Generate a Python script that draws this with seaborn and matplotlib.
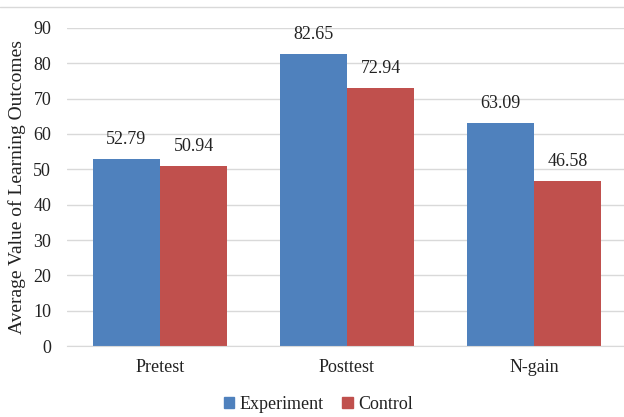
import matplotlib
matplotlib.use("Agg")
import matplotlib.pyplot as plt
import seaborn as sns
import pandas as pd
from matplotlib.lines import Line2D
from matplotlib.font_manager import FontProperties

categories = ["Pretest", "Posttest", "N-gain"]
groups = ["Experiment", "Control"]
experiment = [52.79, 82.65, 63.09]
control = [50.94, 72.94, 46.58]

df = pd.DataFrame({
    "Test": categories * 2,
    "Group": ["Experiment"] * 3 + ["Control"] * 3,
    "Value": experiment + control,
})

sns.set_style("white")
serif = ["Liberation Serif", "DejaVu Serif"]
plt.rcParams["font.family"] = serif

fig = plt.figure(figsize=(6.24, 4.17), dpi=100)
ax = fig.add_axes([0.1066, 0.170, 0.899, 0.763])

palette = {"Experiment": "#4F81BD", "Control": "#C0504D"}
sns.barplot(data=df, x="Test", y="Value", hue="Group", palette=palette,
            width=0.72, saturation=1, linewidth=0, ax=ax, legend=False)

for c in ax.containers:
    ax.bar_label(c, fmt="%.2f", padding=8, fontsize=13, color="#222222")

ax.set_ylim(0, 90)
ax.set_yticks(range(0, 91, 10))
ax.set_xlim(-0.5, 2.5)
ax.yaxis.grid(True, color="#D9D9D9", linewidth=1)
ax.set_axisbelow(True)
for s in ["top", "right", "left"]:
    ax.spines[s].set_visible(False)
ax.spines["bottom"].set_color("#D9D9D9")
ax.tick_params(axis="both", length=0, labelsize=13, colors="#222222")
ax.tick_params(axis="y", pad=11)
ax.tick_params(axis="x", pad=9)
ax.set_xlabel("")
ax.set_ylabel("Average Value of Learning Outcomes", fontsize=14, color="#222222", labelpad=5)

handles = [plt.Rectangle((0, 0), 1, 1, color=palette[g]) for g in groups]
leg = ax.legend(handles, groups, loc="center", bbox_to_anchor=(0.51, 0.03),
                bbox_transform=fig.transFigure, ncol=2, frameon=False,
                prop=FontProperties(family="Liberation Serif", size=13),
                handlelength=0.6, handleheight=0.6,
                handletextpad=0.3, columnspacing=1.0)
for t in leg.get_texts():
    t.set_color("#222222")

fig.add_artist(Line2D([0, 1], [0.984, 0.984], color="#D9D9D9", linewidth=1))

fig.savefig("out.png", dpi=100)
